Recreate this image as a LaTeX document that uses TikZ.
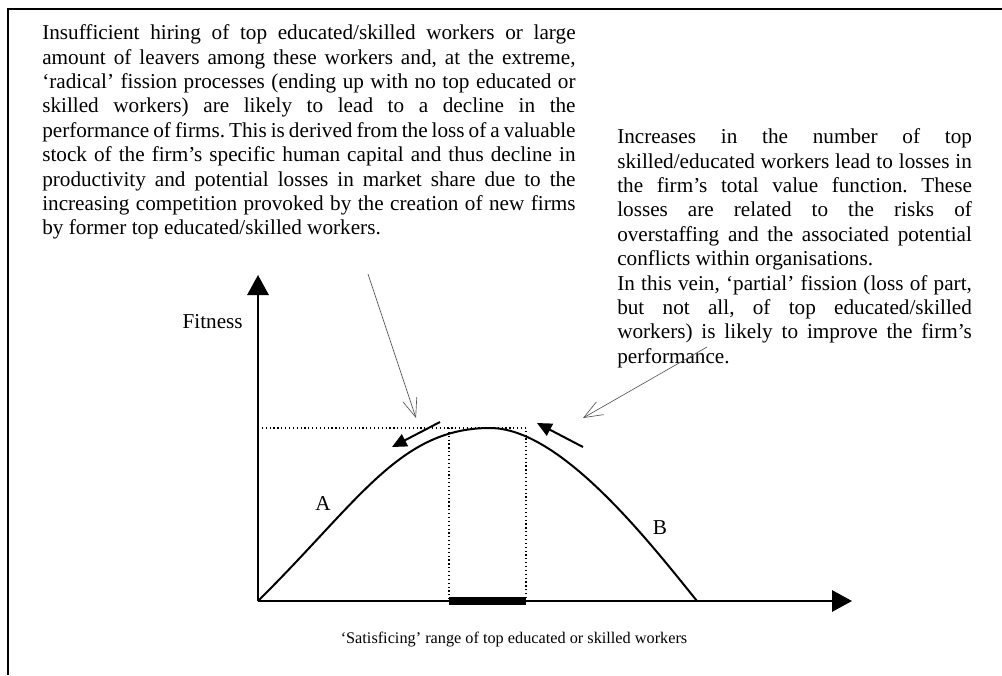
\documentclass[tikz,border=0pt]{standalone}
\usepackage{fontspec}
\setmainfont{Liberation Serif}
\usetikzlibrary{arrows.meta}
\frenchspacing
\newcommand{\jl}[2]{\makebox[#1][s]{#2}}
\begin{document}
\begin{tikzpicture}[x=0.75pt,y=-0.75pt,
  txt/.style={inner sep=0pt,align=left,font=\fontsize{15.9pt}{18.3pt}\selectfont},
  lbl/.style={inner sep=0pt,font=\fontsize{15.9pt}{18.3pt}\selectfont},
  axis/.style={line width=1.5pt,-{Triangle[length=15pt,width=16pt]}},
  curve/.style={line width=1.5pt},
  guide/.style={line width=0.9pt,dotted},
  move/.style={line width=1.5pt,-{Triangle[length=11pt,width=10pt]}},
  pointer/.style={line width=0.5pt,black!65,-{Straight Barb[length=14pt,width=11pt,line width=0.5pt]}},
  frame/.style={line width=1.5pt}]
\useasboundingbox (0,0) rectangle (1002,675);
% frame
\coordinate (fa) at (8,675);
\coordinate (fb) at (8,9);
\coordinate (fc) at (1002,9);
\draw[frame] (fa) -- (fb) -- (fc);
% texts
\node[txt,anchor=north west] (left) at (42,24.5) {%
\jl{400pt}{Insufficient hiring of top educated/skilled workers or large}\\
\jl{400pt}{amount of leavers among these workers and, at the extreme,}\\
\jl{400pt}{‘radical’ fission processes (ending up with no top educated or}\\
\jl{400pt}{skilled workers) are likely to lead to a decline in the}\\
\jl{400pt}{performance of firms. This is derived from the loss of a valuable}\\
\jl{400pt}{stock of the firm’s specific human capital and thus decline in}\\
\jl{400pt}{productivity and potential losses in market share due to the}\\
\jl{400pt}{increasing competition provoked by the creation of new firms}\\
by former top educated/skilled workers.};
\node[txt,anchor=north west] (right) at (617,128.5) {%
\jl{266pt}{Increases in the number of top}\\
\jl{266pt}{skilled/educated workers lead to losses in}\\
\jl{266pt}{the firm’s total value function. These}\\
\jl{266pt}{losses are related to the risks of}\\
\jl{266pt}{overstaffing and the associated potential}\\
conflicts within organisations.\\
\jl{266pt}{In this vein, ‘partial’ fission (loss of part,}\\
\jl{266pt}{but not all, of top educated/skilled}\\
\jl{266pt}{workers) is likely to improve the firm’s}\\
performance.};
% axes
\coordinate (O) at (258,601);
\coordinate (ytip) at (258,275);
\coordinate (xtip) at (852,601);
\draw[axis] (O) -- (ytip);
\draw[axis] (O) -- (xtip);
\node[lbl,anchor=east] (fit) at (243,322) {Fitness};
% guides
\coordinate (peak) at (490,428);
\coordinate (h0) at (258,428);
\coordinate (h1) at (526,428);
\coordinate (v1) at (449,428);
\coordinate (v1b) at (449,601);
\coordinate (v2b) at (526,601);
\draw[guide] (h0) -- (h1) -- (v2b);
\draw[guide] (v1) -- (v1b);
\fill (449,597) rectangle (526,605);
% curve
\coordinate (end) at (697,601);
\draw[curve] (O) .. controls (360,500) and (400,428) .. (peak)
  .. controls (560,428) and (647,539) .. (end);
\node[lbl] (A) at (323,503) {A};
\node[lbl] (B) at (660,528) {B};
% movement arrows
\coordinate (m1s) at (440,422);
\coordinate (m1e) at (392,447);
\coordinate (m2s) at (583,447);
\coordinate (m2e) at (537,423);
\draw[move] (m1s) -- (m1e);
\draw[move] (m2s) -- (m2e);
% pointers
\coordinate (p1s) at (368,274);
\coordinate (p1e) at (416,418);
\coordinate (p2s) at (707,347);
\coordinate (p2e) at (583,418);
\draw[pointer] (p1s) -- (p1e);
\draw[pointer] (p2s) -- (p2e);
% bottom label
\node[inner sep=0pt,font=\fontsize{12.2pt}{14pt}\selectfont] (range) at (514,640) {‘Satisficing’ range of top educated or skilled workers};
\end{tikzpicture}
\end{document}
